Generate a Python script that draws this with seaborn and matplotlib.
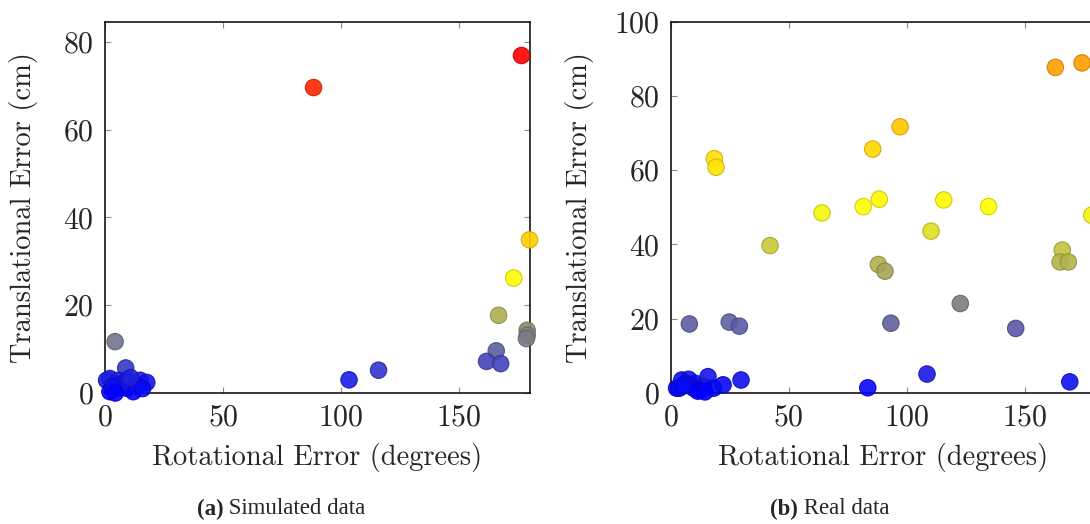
import numpy as np
import pandas as pd
import seaborn as sns
import matplotlib.pyplot as plt
from matplotlib.colors import LinearSegmentedColormap

# (a) simulated data: rotational error (deg) vs translational error (cm)
rot_sim = [88.4, 176.4, 179.8, 173.1, 166.7, 178.8, 178.8, 178.5, 165.7, 161.6,
           167.6, 115.9, 103.4, 4.4, 8.9,
           0.8, 2.2, 5.8, 9.3, 12.1, 15.0, 17.8, 2.2, 5.8, 9.3, 12.1, 14.0,
           7.0, 3.5, 11.0, 16.0, 4.5]
trans_sim = [69.6, 76.9, 34.9, 26.2, 17.7, 14.3, 13.2, 12.4, 9.6, 7.2,
             6.7, 5.2, 3.0, 11.7, 5.7,
             2.9, 3.3, 2.9, 2.9, 2.4, 2.9, 2.4, 0.3, 1.1, 1.1, 0.3, 1.5,
             2.0, 1.5, 3.5, 1.0, 0.0]

# (b) real data
rot_real = [163.0, 174.3, 97.2, 85.6, 18.5, 19.2, 88.4, 115.7, 81.6, 134.7,
            64.1, 178.4, 110.3, 42.1, 165.9, 165.0, 168.5, 88.0, 90.8, 122.7,
            7.9, 24.8, 29.1, 93.3, 146.2, 108.6, 83.5, 169.1, 29.8,
            2.5, 3.6, 4.7, 7.6, 10.4, 12.5, 13.9, 15.8, 18.2, 22.2, 9.7,
            6.2, 11.5, 14.5, 5.5]
trans_real = [87.7, 88.9, 71.7, 65.7, 63.1, 60.8, 52.2, 52.0, 50.2, 50.2,
              48.5, 47.9, 43.6, 39.7, 38.5, 35.3, 35.3, 34.6, 32.8, 24.1,
              18.6, 19.1, 18.0, 18.8, 17.4, 5.1, 1.4, 3.0, 3.5,
              1.3, 1.3, 3.5, 3.7, 2.6, 0.8, 1.7, 4.4, 1.3, 2.2, 1.3,
              2.6, 0.5, 0.3, 2.0]

panels = [
    {'rot': rot_sim, 'trans': trans_sim, 'ylim': 84.6, 'yticks': [0, 20, 40, 60, 80],
     'vmax': 77, 'tag': '(a)', 'caption': 'Simulated data'},
    {'rot': rot_real, 'trans': trans_real, 'ylim': 100, 'yticks': [0, 20, 40, 60, 80, 100],
     'vmax': 150, 'tag': '(b)', 'caption': 'Real data'},
]

sns.set_style('white')
plt.rcParams['font.family'] = ['cmr10', 'DejaVu Serif']
plt.rcParams['axes.formatter.use_mathtext'] = True

# pgfplots "hot": blue -> yellow -> orange -> red
hot = LinearSegmentedColormap.from_list(
    'pgf_hot', [(0, (0, 0, 1)), (1 / 3, (1, 1, 0)), (2 / 3, (1, 0.5, 0)), (1, (1, 0, 0))])

fig = plt.figure(figsize=(10.9, 5.24), dpi=100)
W, H = 1090, 524
axes_px = [(104.7, 425.3), (670.7, 424.8)]
label_x = [-0.158, -0.18]
cap_center = [281, 830]

for i, p in enumerate(panels):
    left, width = axes_px[i]
    ax = fig.add_axes([left / W, (H - 393) / H, width / W, 371.3 / H])
    df = pd.DataFrame({'rot': p['rot'], 'trans': p['trans']})
    sns.scatterplot(data=df, x='rot', y='trans', hue='trans', palette=hot,
                    hue_norm=(0, p['vmax']), s=140, alpha=0.9, linewidth=0.8,
                    legend=False, ax=ax, clip_on=False, zorder=3)
    pts = ax.collections[0]
    fc = np.array(pts.get_facecolors())
    ec = fc.copy()
    ec[:, :3] *= 0.8
    pts.set_edgecolors(ec)

    ax.set_xlim(0, 180)
    ax.set_ylim(0, p['ylim'])
    ax.set_xticks([0, 50, 100, 150])
    ax.set_yticks(p['yticks'])
    ax.tick_params(direction='in', length=4.5, width=0.8, color='#8c8c8c',
                   bottom=True, left=True, top=True, right=True,
                   labelsize=21.5, pad=8)
    for sp in ax.spines.values():
        sp.set_color('black')
        sp.set_linewidth(1.1)
        sp.set_zorder(2)
    ax.set_xlabel('Rotational Error (degrees)', fontsize=20.5)
    ax.set_ylabel('Translational Error (cm)', fontsize=20.5)
    ax.xaxis.set_label_coords(0.5, -0.135)
    ax.yaxis.set_label_coords(label_x[i], 0.5)

    # caption with bold tag
    y_cap = (H - 509) / H
    t1 = fig.text(0, y_cap, p['tag'], family='Liberation Serif', weight='bold',
                  fontsize=16.5, va='center', ha='left')
    t2 = fig.text(0, y_cap, ' ' + p['caption'], family='Liberation Serif',
                  fontsize=16.5, va='center', ha='left')
    r = fig.canvas.get_renderer()
    w1 = t1.get_window_extent(r).width
    w2 = t2.get_window_extent(r).width
    x0 = cap_center[i] - (w1 + w2) / 2
    t1.set_x(x0 / W)
    t2.set_x((x0 + w1) / W)

fig.savefig('out.png', dpi=100)
